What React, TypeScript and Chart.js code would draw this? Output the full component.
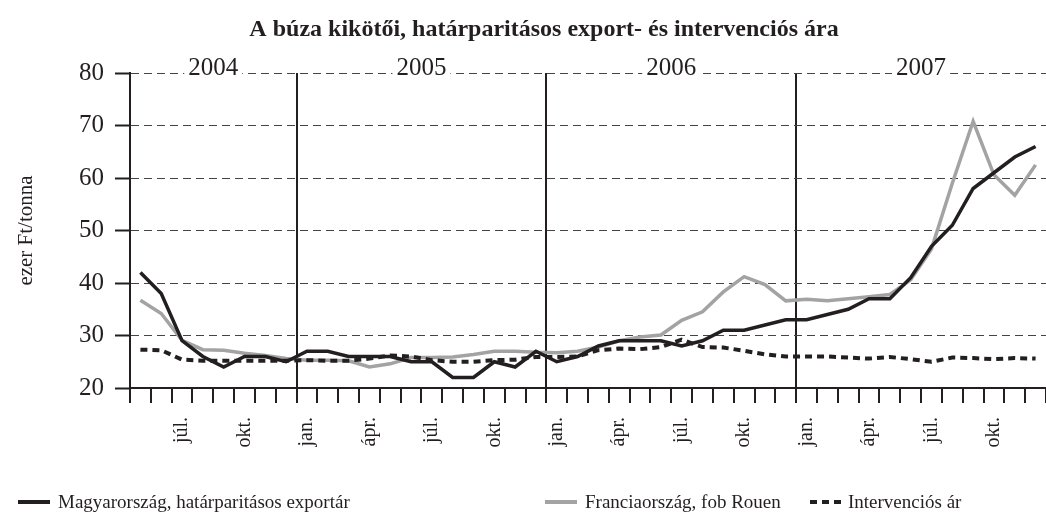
import React, { useEffect, useRef } from 'react';
import { Chart, registerables } from 'chart.js';

Chart.register(...registerables);

const SERIF = '"Liberation Serif", "Times New Roman", serif';

// May 2004 .. Dec 2007 (monthly)
const monthLabels = [
  '', '', 'júl.', '', '', 'okt.', '', '',
  'jan.', '', '', 'ápr.', '', '', 'júl.', '', '', 'okt.', '', '',
  'jan.', '', '', 'ápr.', '', '', 'júl.', '', '', 'okt.', '', '',
  'jan.', '', '', 'ápr.', '', '', 'júl.', '', '', 'okt.', '', '',
];

const yearLabels = ['2004', '2005', '2006', '2007'];
const yearFirstIndex = [0, 8, 20, 32];
const yearLastIndex = [7, 19, 31, 43];

const hungary = [
  42, 38, 29, 26, 24, 26, 26, 25,
  27, 27, 26, 26, 26, 25, 25, 22, 22, 25, 24, 27,
  25, 26, 28, 29, 29, 29, 28, 29, 31, 31, 32, 33,
  33, 34, 35, 37, 37, 41, 47, 51, 58, 61, 64, 66,
];

const france = [
  36.7, 34.2, 29.1, 27.3, 27.2, 26.6, 26.2, 25.6,
  25.3, 25.3, 25.2, 24, 24.6, 25.8, 25.8, 25.9, 26.4, 27, 27, 26.8,
  26.7, 27, 27.8, 29, 29.7, 30.1, 32.9, 34.5, 38.3, 41.2, 39.7, 36.6,
  36.9, 36.6, 37, 37.4, 37.8, 40.6, 46.5, 59, 70.8, 60.6, 56.7, 62.5,
];

const intervention = [
  27.3, 27.2, 25.4, 25.2, 25.2, 25.2, 25.2, 25.2,
  25.3, 25.2, 25.2, 25.6, 26.2, 26, 25.3, 25, 25, 25.3, 25.4, 25.9,
  25.9, 26, 27.2, 27.5, 27.4, 27.8, 29.2, 27.8, 27.7, 27.1, 26.4, 26,
  26, 26, 25.8, 25.6, 25.9, 25.5, 25, 25.8, 25.7, 25.5, 25.7, 25.6,
];

const seriesNames = [
  'Magyarország, határparitásos exportár',
  'Franciaország, fob Rouen',
  'Intervenciós ár',
];

const titleText = 'A búza kikötői, határparitásos export- és intervenciós ára';
const yAxisTitle = 'ezer Ft/tonna';

const BLACK = '#231f20';
const GRAY = '#a3a3a3';

const textPlugin = {
  id: 'texts',
  afterDraw(chart: any) {
    const ctx = chart.ctx;
    const x = chart.scales.x;
    const area = chart.chartArea;
    ctx.save();
    // title
    ctx.fillStyle = BLACK;
    ctx.font = `bold 24px ${SERIF}`;
    ctx.textAlign = 'center';
    ctx.textBaseline = 'middle';
    ctx.fillText(titleText, 544, 30);
    // y axis title
    ctx.save();
    ctx.translate(26, (area.top + area.bottom) / 2);
    ctx.rotate(-Math.PI / 2);
    ctx.font = `21px ${SERIF}`;
    ctx.fillText(yAxisTitle, 0, 0);
    ctx.restore();
    // year labels
    ctx.font = `25px ${SERIF}`;
    ctx.textBaseline = 'alphabetic';
    yearLabels.forEach((lab, i) => {
      const cx = (x.getPixelForValue(yearFirstIndex[i]) + x.getPixelForValue(yearLastIndex[i])) / 2;
      const w = ctx.measureText(lab).width;
      ctx.fillStyle = '#ffffff';
      ctx.fillRect(cx - w / 2 - 4, area.top - 3, w + 8, 6);
      ctx.fillStyle = BLACK;
      ctx.fillText(lab, cx, area.top + 2);
    });
    ctx.restore();
  },
};

export default function App() {
  const ref = useRef<HTMLCanvasElement>(null);

  useEffect(() => {
    if (!ref.current) return;
    const boundaries = yearFirstIndex.slice(1);
    const chart = new Chart(ref.current, {
      type: 'line',
      data: {
        labels: monthLabels,
        datasets: [
          {
            label: seriesNames[0],
            data: hungary,
            borderColor: BLACK,
            borderWidth: 3.5,
            pointRadius: 0,
            tension: 0,
            order: 0,
          },
          {
            label: seriesNames[1],
            data: france,
            borderColor: GRAY,
            borderWidth: 3.5,
            pointRadius: 0,
            tension: 0,
            order: 2,
          },
          {
            label: seriesNames[2],
            data: intervention,
            borderColor: BLACK,
            borderWidth: 4,
            borderDash: [7, 5],
            pointRadius: 0,
            tension: 0,
            order: 1,
          },
        ],
      },
      options: {
        animation: false,
        responsive: true,
        maintainAspectRatio: false,
        layout: { padding: { top: 73, left: 0, right: 0, bottom: 0 } },
        plugins: {
          legend: { display: false },
          title: { display: false },
          tooltip: { enabled: false },
        },
        scales: {
          x: {
            type: 'category',
            offset: true,
            afterFit: (s: any) => {
              s.height = 138;
              s.paddingLeft = 0;
              s.paddingRight = 0;
            },
            grid: {
              offset: true,
              drawOnChartArea: true,
              color: (c: any) => (boundaries.includes(c.index) ? BLACK : 'rgba(0,0,0,0)'),
              lineWidth: 2,
              tickColor: BLACK,
              tickWidth: 2,
              tickLength: 15,
            },
            border: { display: true, color: BLACK, width: 2 },
            ticks: {
              autoSkip: false,
              maxRotation: 90,
              minRotation: 90,
              padding: 14,
              color: BLACK,
              font: { family: SERIF, size: 20 },
            },
          },
          y: {
            min: 20,
            max: 80,
            afterFit: (s: any) => { s.width = 130; },
            grid: {
              color: '#444',
              lineWidth: 1,
              tickColor: BLACK,
              tickWidth: 2,
              tickLength: 15,
            },
            border: { display: true, color: BLACK, width: 2, dash: [8, 5] },
            ticks: {
              stepSize: 10,
              padding: 11,
              color: BLACK,
              font: { family: SERIF, size: 25 },
            },
          },
        },
      },
      plugins: [textPlugin],
    });
    return () => chart.destroy();
  }, []);

  const legendText: React.CSSProperties = {
    position: 'absolute',
    top: 490,
    fontFamily: SERIF,
    fontSize: 19,
    color: BLACK,
    whiteSpace: 'nowrap',
    lineHeight: '24px',
  };
  const sample = (left: number, color: string): React.CSSProperties => ({
    position: 'absolute',
    left,
    top: 500,
    width: 32,
    height: 4,
    background: color,
  });

  return (
    <div style={{ position: 'absolute', left: 0, top: 0, width: 1046, height: 526, background: '#fff', overflow: 'hidden' }}>
      <div style={{ position: 'absolute', left: 0, top: 0, width: 1046, height: 526 }}>
        <canvas ref={ref} />
      </div>
      <div style={sample(18, BLACK)} />
      <div style={{ ...legendText, left: 58 }}>{seriesNames[0]}</div>
      <div style={sample(545, GRAY)} />
      <div style={{ ...legendText, left: 585 }}>{seriesNames[1]}</div>
      {[0, 1, 2].map((k) => (
        <div key={k} style={{ position: 'absolute', left: 810 + k * 12, top: 500, width: 7, height: 4, background: BLACK }} />
      ))}
      <div style={{ ...legendText, left: 848 }}>{seriesNames[2]}</div>
    </div>
  );
}
